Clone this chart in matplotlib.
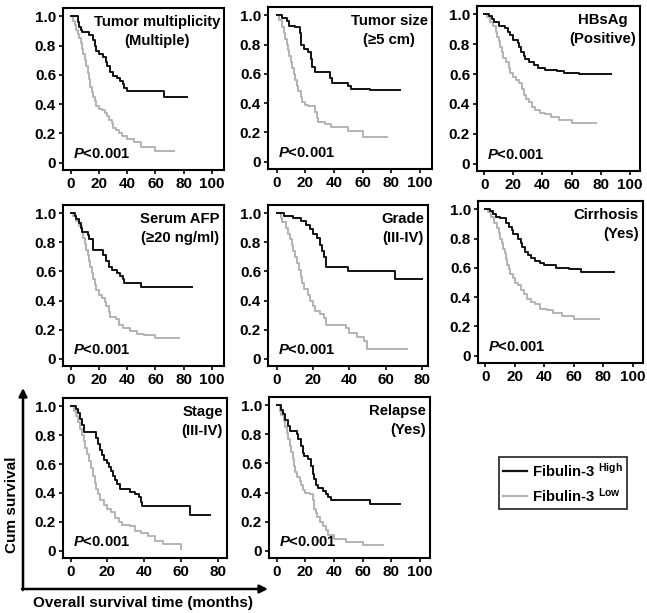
import matplotlib
matplotlib.use('Agg')
import matplotlib.pyplot as plt
from matplotlib.patches import FancyArrowPatch
from matplotlib.lines import Line2D

plt.rcParams['font.family'] = ['Liberation Sans', 'DejaVu Sans']
plt.rcParams['font.weight'] = 'bold'
plt.rcParams['mathtext.fontset'] = 'custom'
plt.rcParams['mathtext.rm'] = 'Liberation Sans:bold'
plt.rcParams['mathtext.it'] = 'Liberation Sans:italic:bold'
plt.rcParams['mathtext.bf'] = 'Liberation Sans:bold'

#survival curves: (month, cum survival), step after each point
mult_hi = [(0, 1.0), (5, 0.96), (6, 0.93), (7, 0.91), (8, 0.89), (13, 0.87), (16, 0.84), (17, 0.80),
           (18, 0.76), (20, 0.74), (23, 0.72), (25, 0.69), (26, 0.66), (28, 0.62), (30, 0.59),
           (33, 0.58), (35, 0.56), (37, 0.54), (38, 0.51), (40, 0.49), (66, 0.45), (82, 0.45)]
mult_lo = [(0, 1.0), (2, 0.97), (3, 0.94), (4, 0.91), (5, 0.88), (6, 0.85), (7, 0.82), (8, 0.78),
           (9, 0.74), (10, 0.70), (11, 0.66), (12, 0.61), (13, 0.57), (14, 0.52), (15, 0.48),
           (16, 0.45), (17, 0.42), (18, 0.39), (20, 0.37), (22, 0.36), (24, 0.34), (26, 0.32),
           (27, 0.29), (29, 0.27), (30, 0.24), (32, 0.22), (34, 0.20), (36, 0.18), (40, 0.16),
           (45, 0.14), (50, 0.11), (60, 0.08), (73, 0.08)]

size_hi = [(0, 1.0), (4, 0.98), (7, 0.96), (9, 0.93), (13, 0.92), (16, 0.88), (17, 0.80), (19, 0.77),
           (22, 0.75), (24, 0.70), (25, 0.65), (27, 0.61), (37, 0.57), (39, 0.54), (50, 0.52),
           (52, 0.50), (65, 0.49), (86, 0.49)]
size_lo = [(0, 1.0), (2, 0.97), (4, 0.92), (5, 0.88), (6, 0.84), (7, 0.80), (8, 0.76), (9, 0.72),
           (10, 0.68), (11, 0.64), (12, 0.60), (13, 0.56), (14, 0.52), (15, 0.48), (17, 0.44),
           (18, 0.41), (20, 0.39), (22, 0.38), (27, 0.34), (28, 0.30), (29, 0.27), (34, 0.26),
           (38, 0.24), (50, 0.21), (60, 0.17), (77, 0.17)]

hbs_hi = [(0, 1.0), (3, 0.99), (5, 0.97), (7, 0.95), (10, 0.92), (14, 0.91), (16, 0.88), (18, 0.86),
          (20, 0.83), (23, 0.81), (24, 0.78), (25, 0.75), (27, 0.72), (28, 0.70), (31, 0.68),
          (34, 0.66), (37, 0.64), (42, 0.63), (50, 0.62), (55, 0.61), (65, 0.60), (87, 0.60)]
hbs_lo = [(0, 1.0), (2, 0.98), (4, 0.95), (6, 0.92), (8, 0.88), (9, 0.85), (10, 0.82), (11, 0.78),
          (12, 0.75), (13, 0.71), (15, 0.68), (17, 0.64), (18, 0.61), (20, 0.58), (22, 0.56),
          (24, 0.54), (26, 0.50), (27, 0.46), (29, 0.43), (31, 0.41), (33, 0.38), (35, 0.36),
          (38, 0.34), (42, 0.33), (46, 0.31), (51, 0.29), (60, 0.27), (77, 0.27)]

afp_hi = [(0, 1.0), (3, 0.98), (4, 0.96), (6, 0.93), (7, 0.90), (8, 0.87), (12, 0.85), (13, 0.82),
          (16, 0.75), (23, 0.71), (25, 0.67), (27, 0.63), (29, 0.61), (33, 0.59), (35, 0.57),
          (37, 0.55), (38, 0.52), (50, 0.49), (86, 0.49)]
afp_lo = [(0, 1.0), (2, 0.98), (4, 0.95), (6, 0.91), (8, 0.87), (9, 0.83), (10, 0.79), (11, 0.75),
          (12, 0.71), (13, 0.67), (14, 0.63), (15, 0.59), (16, 0.55), (17, 0.51), (18, 0.47),
          (20, 0.44), (22, 0.42), (24, 0.39), (25, 0.36), (27, 0.32), (28, 0.29), (32, 0.27),
          (34, 0.23), (37, 0.21), (42, 0.19), (47, 0.17), (52, 0.16), (60, 0.14), (77, 0.14)]

grade_hi = [(0, 1.0), (4, 0.98), (9, 0.97), (13, 0.95), (16, 0.92), (18, 0.89), (20, 0.86),
            (22, 0.83), (24, 0.78), (25, 0.74), (26, 0.70), (27, 0.63), (39, 0.60), (65, 0.55),
            (80, 0.55)]
grade_lo = [(0, 1.0), (2, 0.97), (3, 0.94), (5, 0.90), (6, 0.86), (7, 0.82), (8, 0.78), (9, 0.74),
            (10, 0.70), (11, 0.66), (12, 0.61), (13, 0.56), (14, 0.52), (15, 0.48), (17, 0.44),
            (18, 0.40), (20, 0.36), (21, 0.33), (24, 0.31), (26, 0.28), (27, 0.23), (38, 0.21),
            (40, 0.18), (44, 0.15), (48, 0.12), (50, 0.07), (72, 0.07)]

cirr_hi = [(0, 1.0), (3, 0.99), (5, 0.97), (7, 0.95), (10, 0.94), (14, 0.91), (16, 0.88), (18, 0.86),
           (19, 0.83), (22, 0.80), (24, 0.77), (25, 0.74), (27, 0.71), (29, 0.69), (31, 0.67),
           (34, 0.65), (37, 0.63), (40, 0.62), (48, 0.60), (57, 0.59), (65, 0.57), (87, 0.57)]
cirr_lo = [(0, 1.0), (2, 0.98), (4, 0.95), (6, 0.91), (8, 0.87), (9, 0.84), (10, 0.80), (11, 0.77),
           (12, 0.73), (13, 0.70), (14, 0.66), (15, 0.62), (16, 0.59), (17, 0.56), (19, 0.53),
           (20, 0.50), (22, 0.48), (24, 0.45), (26, 0.42), (28, 0.39), (31, 0.37), (34, 0.35),
           (37, 0.32), (42, 0.31), (46, 0.29), (52, 0.27), (60, 0.25), (77, 0.25)]

stage_hi = [(0, 1.0), (3, 0.98), (4, 0.95), (5, 0.91), (6, 0.87), (7, 0.82), (14, 0.78), (15, 0.74),
            (16, 0.70), (17, 0.66), (18, 0.63), (20, 0.61), (21, 0.58), (22, 0.55), (23, 0.52),
            (24, 0.49), (25, 0.46), (27, 0.43), (32, 0.41), (35, 0.39), (37, 0.37), (38, 0.34),
            (39, 0.31), (65, 0.25), (76, 0.25)]
stage_lo = [(0, 1.0), (2, 0.97), (3, 0.93), (4, 0.89), (5, 0.84), (6, 0.80), (7, 0.76), (8, 0.71),
            (9, 0.67), (10, 0.62), (11, 0.57), (12, 0.52), (13, 0.47), (14, 0.43), (15, 0.39),
            (16, 0.35), (18, 0.32), (20, 0.29), (22, 0.27), (24, 0.23), (26, 0.20), (28, 0.18),
            (32, 0.17), (35, 0.14), (38, 0.12), (42, 0.10), (46, 0.07), (50, 0.05), (60, 0.01)]

relapse_hi = [(0, 1.0), (3, 0.97), (4, 0.94), (6, 0.90), (8, 0.86), (9, 0.82), (14, 0.80), (15, 0.77),
              (17, 0.72), (18, 0.67), (19, 0.65), (22, 0.63), (24, 0.58), (25, 0.53), (26, 0.49),
              (27, 0.45), (29, 0.43), (32, 0.41), (34, 0.39), (36, 0.37), (38, 0.35), (65, 0.32),
              (86, 0.32)]
relapse_lo = [(0, 1.0), (2, 0.96), (3, 0.93), (5, 0.89), (6, 0.85), (7, 0.81), (8, 0.77), (9, 0.72),
              (10, 0.68), (11, 0.63), (12, 0.58), (13, 0.54), (14, 0.51), (16, 0.48), (17, 0.45),
              (18, 0.42), (20, 0.40), (23, 0.39), (25, 0.35), (26, 0.29), (27, 0.26), (28, 0.23),
              (30, 0.20), (32, 0.17), (34, 0.14), (36, 0.11), (40, 0.08), (48, 0.06), (60, 0.04),
              (74, 0.04)]

titles = ['Tumor multiplicity\n(Multiple)', 'Tumor size\n(\u22655 cm)', 'HBsAg\n(Positive)',
          'Serum AFP\n(\u226520 ng/ml)', 'Grade\n(III-IV)', 'Cirrhosis\n(Yes)',
          'Stage\n(III-IV)', 'Relapse\n(Yes)']
x_ticks_100 = [0, 20, 40, 60, 80, 100]
x_ticks_80 = [0, 20, 40, 60, 80]
y_ticks = [0, 0.2, 0.4, 0.6, 0.8, 1.0]
y_labels = ['0', '0.2', '0.4', '0.6', '0.8', '1.0']

W, H = 647, 613
fig = plt.figure(figsize=(W / 100, H / 100), dpi=100)

def px_axes(x0, y0, x1, y1):
    #box given in picture pixels (top-left origin)
    return fig.add_axes([x0 / W, 1 - y1 / H, (x1 - x0) / W, (y1 - y0) / H])

#(curves, title, box in px, x-range, ticks, alignment of the two title lines)
panels = [
    (mult_hi, mult_lo, titles[0], (63, 8, 224, 170), (-5.4, 108.5), x_ticks_100, 'center'),
    (size_hi, size_lo, titles[1], (268, 7, 432, 169), (-6.0, 108.5), x_ticks_100, 'center'),
    (hbs_hi, hbs_lo, titles[2], (477, 6, 640, 171), (-5.0, 107.0), x_ticks_100, 'center'),
    (afp_hi, afp_lo, titles[3], (63, 205, 224, 366), (-5.4, 108.5), x_ticks_100, 'center'),
    (grade_hi, grade_lo, titles[4], (268, 205, 428, 366), (-5.0, 83.5), x_ticks_80, 'right'),
    (cirr_hi, cirr_lo, titles[5], (478, 201, 643, 363), (-5.0, 107.0), x_ticks_100, 'right'),
    (stage_hi, stage_lo, titles[6], (63, 398, 227, 558), (-4.2, 85.0), x_ticks_80, 'right'),
    (relapse_hi, relapse_lo, titles[7], (269, 397, 430, 558), (-5.5, 107.0), x_ticks_100, 'right'),
]

for hi, lo, title, box, xl, xt, malign in panels:
    ax = px_axes(*box)
    for curve, col in ((lo, '#b3b3b3'), (hi, '#111111')):
        t = [p[0] for p in curve]
        s = [p[1] for p in curve]
        ax.step(t, s, where='post', color=col, lw=1.4)
    ax.set_xlim(*xl)
    ax.set_ylim(-0.05, 1.057)
    ax.set_xticks(xt)
    ax.set_yticks(y_ticks)
    ax.set_yticklabels(y_labels)
    ax.tick_params(direction='out', length=3, width=1.2, pad=2, labelsize=11)
    for lab in ax.get_xticklabels() + ax.get_yticklabels():
        lab.set_fontweight('bold')
    for sp in ax.spines.values():
        sp.set_linewidth(1.5)
    ax.text(0.975, 0.955, title, transform=ax.transAxes, ha='right', va='top',
            fontsize=10.7, fontweight='bold', linespacing=1.4, multialignment=malign)
    ax.text(0.06, 0.075, r'$P$<0.001', transform=ax.transAxes, ha='left', va='baseline',
            fontsize=10.7, fontweight='bold')

#legend
handles = [Line2D([], [], color='#111111', lw=1.6), Line2D([], [], color='#b3b3b3', lw=1.6)]
labels = [r'Fibulin-3 $^{\mathrm{High}}$', r'Fibulin-3 $^{\mathrm{Low}}$']
leg = fig.legend(handles, labels, loc='upper left', bbox_to_anchor=(499 / W, 1 - 457 / H),
                 frameon=True, fancybox=False, edgecolor='black', fontsize=10.7,
                 handlelength=1.6, handletextpad=0.3, borderpad=0.3, labelspacing=0.45,
                 borderaxespad=0)
leg.get_frame().set_linewidth(1.3)
for txt in leg.get_texts():
    txt.set_fontweight('bold')

#common axis arrows
fig.add_artist(FancyArrowPatch((23 / W, 1 - 590 / H), (23 / W, 1 - 388 / H), transform=fig.transFigure,
                               arrowstyle='-|>', mutation_scale=12, lw=1.8, color='black',
                               shrinkA=0, shrinkB=0))
fig.add_artist(FancyArrowPatch((22 / W, 1 - 589 / H), (268 / W, 1 - 589 / H), transform=fig.transFigure,
                               arrowstyle='-|>', mutation_scale=12, lw=1.8, color='black',
                               shrinkA=0, shrinkB=0))
fig.text(12 / W, 1 - 505 / H, 'Cum survival', rotation=90, ha='center', va='center',
         fontsize=11, fontweight='bold')
fig.text(143 / W, 1 - 603 / H, 'Overall survival time (months)', ha='center', va='center',
         fontsize=11, fontweight='bold')

fig.savefig('out.png', dpi=100)
